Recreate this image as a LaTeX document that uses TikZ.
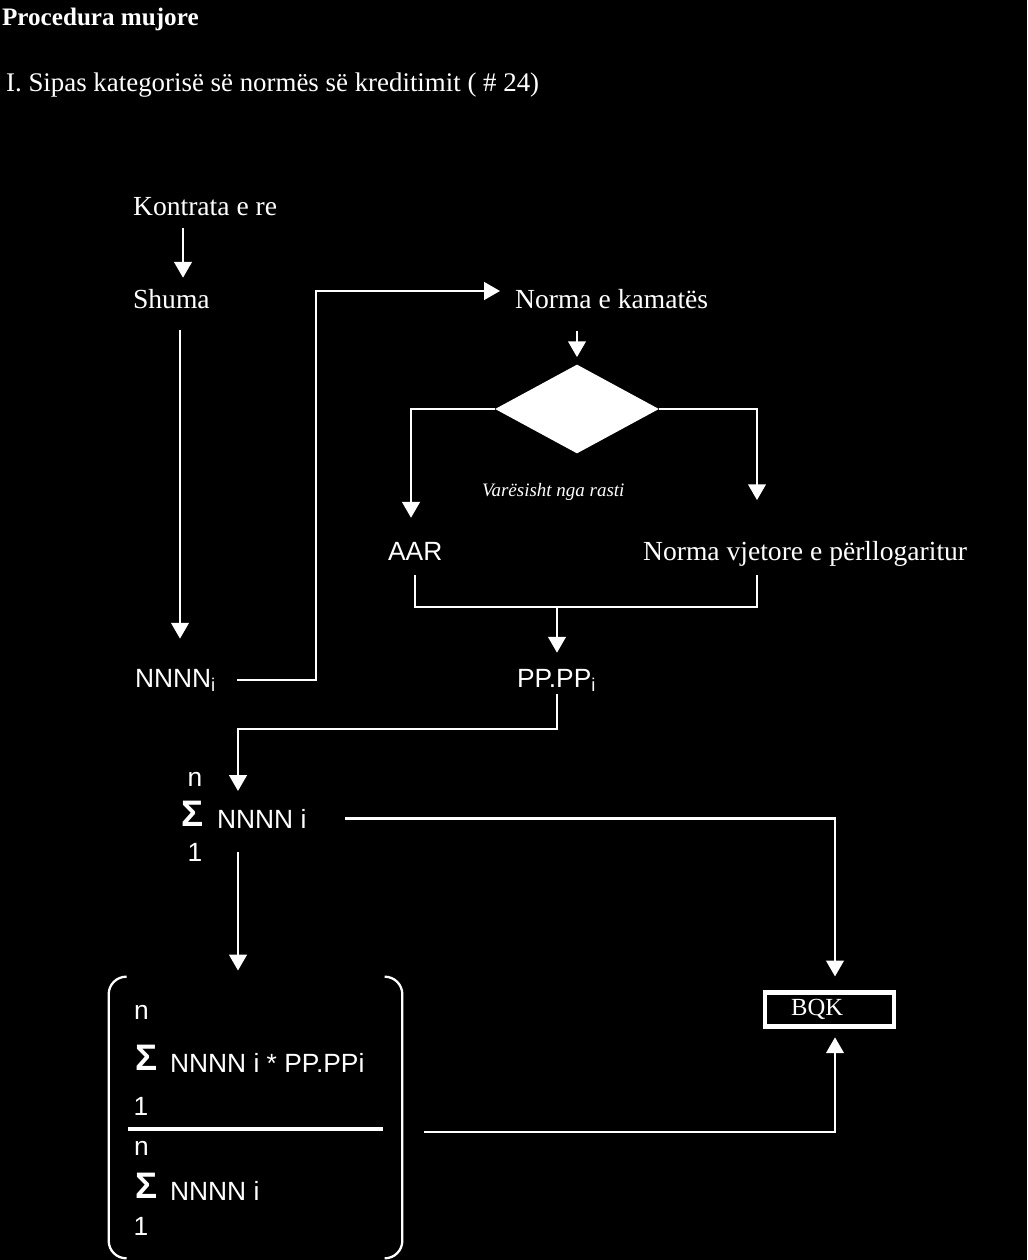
\documentclass[tikz,border=0pt]{standalone}
\usepackage{fontspec}
\setmainfont{Liberation Serif}
\setsansfont{Liberation Sans}
\usepackage{tikz}
\usetikzlibrary{arrows.meta,positioning,shapes.geometric,calc}

\begin{document}
\begin{tikzpicture}[x=0.02cm,y=-0.02cm,
  every node/.style={text=white,inner sep=1pt},
  serif/.style={font=\fontsize{15.7}{18}\selectfont},
  sans/.style={font=\sffamily\fontsize{15}{17}\selectfont},
  sigma/.style={font=\sffamily\bfseries\fontsize{21}{24}\selectfont},
  wire/.style={draw=white,line width=1.3pt},
  arr/.style={wire,-{Triangle[width=10pt,length=9pt]}}]

  % background, fixes the page size
  \fill[black] (0,0) rectangle (1027,1260);

  % headings
  \node[anchor=base west,font=\bfseries\fontsize{14.3}{17}\selectfont] (title) at (0,26) {Procedura mujore};
  \node[anchor=base west,font=\fontsize{15.3}{18}\selectfont] (sub) at (4,92) {I. Sipas kategorisë së normës së kreditimit ( \# 24)};

  % left column
  \node[serif,anchor=base west] (kontrata) at (131,216) {Kontrata e re};
  \node[serif,anchor=base west] (shuma) at (131,309) {Shuma};
  \node[sans,anchor=base west] (nnnn) at (133,687) {NNNN\textsubscript{i}};

  % rate branch
  \node[serif,anchor=base west] (norma) at (513,309) {Norma e kamatës};
  \node[diamond,fill=white,minimum width=3.28cm,minimum height=1.78cm,inner sep=0pt] (dec) at (577,409) {};
  \node[anchor=base west,font=\itshape\fontsize{10.8}{13}\selectfont] (rasti) at (480,496) {Varësisht nga rasti};
  \node[sans,anchor=base west] (aar) at (386,560) {AAR};
  \node[serif,anchor=base west] (vjetore) at (641,560) {Norma vjetore e përllogaritur};
  \node[sans,anchor=base west] (pp) at (515,687) {PP.PP\textsubscript{i}};

  % sum
  \node[sans,anchor=base] (n1) at (195,786) {n};
  \node[sigma,anchor=base] (sig1) at (193,826) {Σ};
  \node[sans,anchor=base west] (s1) at (215,828) {NNNN i};
  \node[sans,anchor=base] (o1) at (195,861) {1};

  % weighted fraction
  \node[minimum width=5.86cm,minimum height=5.62cm] (frac) at (255.5,1117.5) {};
  \draw[wire,rounded corners=10pt] ($(frac.north west)+(18,0)$) -- (frac.north west) -- (frac.south west) -- ($(frac.south west)+(18,0)$);
  \draw[wire,rounded corners=10pt] ($(frac.north east)+(-17,0)$) -- (frac.north east) -- (frac.south east) -- ($(frac.south east)+(-17,0)$);
  \node[sans,anchor=base] (nA) at (141.5,1019) {n};
  \node[sigma,anchor=base] (sigA) at (147,1070) {Σ};
  \node[sans,anchor=base west] (numA) at (168,1072) {NNNN i * PP.PPi};
  \node[sans,anchor=base] (oA) at (141,1115) {1};
  \draw[white,line width=2.3pt] (128,1129) -- (383,1129);
  \node[sans,anchor=base] (nB) at (141.5,1155) {n};
  \node[sigma,anchor=base] (sigB) at (147,1198) {Σ};
  \node[sans,anchor=base west] (denB) at (168,1200) {NNNN i};
  \node[sans,anchor=base] (oB) at (141,1235) {1};

  \node[draw=white,line width=2.3pt,minimum width=2.58cm,minimum height=0.68cm,inner sep=0pt,font=\fontsize{14}{16}\selectfont] (bqk) at (829.5,1009.5) {BQK\kern14pt};

  % routing points
  \coordinate (colA) at (183,0);
  \coordinate (colB) at (180,0);
  \coordinate (bend1) at (316,291);
  \coordinate (lcol) at (411,409);
  \coordinate (rcol) at (757,409);
  \coordinate (join) at (557,607);
  \coordinate (bend2) at (238,729);
  \coordinate (bcol) at (835,819);
  \coordinate (bcol2) at (835,1132);

  \draw[arr,shorten <=5.7pt,shorten >=5.7pt] (kontrata.south -| colA) -- (shuma.north -| colA);
  \draw[arr,shorten <=10.8pt,shorten >=16pt] (shuma.south -| colB) -- (nnnn.north -| colB);
  \draw[arr,shorten <=10.8pt,shorten >=7.4pt] (nnnn.east) -| (bend1) -- (bend1 -| norma.west);
  \draw[arr,shorten <=11pt,shorten >=4pt] (dec.north |- norma.south) -- (dec.north);
  \draw[arr,shorten >=12.5pt] (dec.west) -| (lcol |- aar.north);
  \draw[arr,shorten >=22pt] (dec.east) -| (rcol |- vjetore.north);
  \draw[wire,shorten <=7.4pt,shorten >=4pt] (aar.south) |- (join -| rcol) -- (rcol |- vjetore.south);
  \draw[arr,shorten >=8pt] (join) -- (join |- pp.north);
  \draw[arr,shorten >=9pt] (pp.south) |- (bend2) -- (bend2 |- s1.north);
  \draw[arr,shorten <=21pt,shorten >=8pt] (s1.east) -| (bcol |- bqk.north);
  \draw[arr,shorten <=12.5pt,shorten >=3.5pt] (s1.south -| bend2) -- (frac.north -| bend2);
  \draw[arr,shorten <=12.5pt,shorten >=5pt] (frac.east |- bcol2) -| (bqk.south -| bcol2);
\end{tikzpicture}
\end{document}
